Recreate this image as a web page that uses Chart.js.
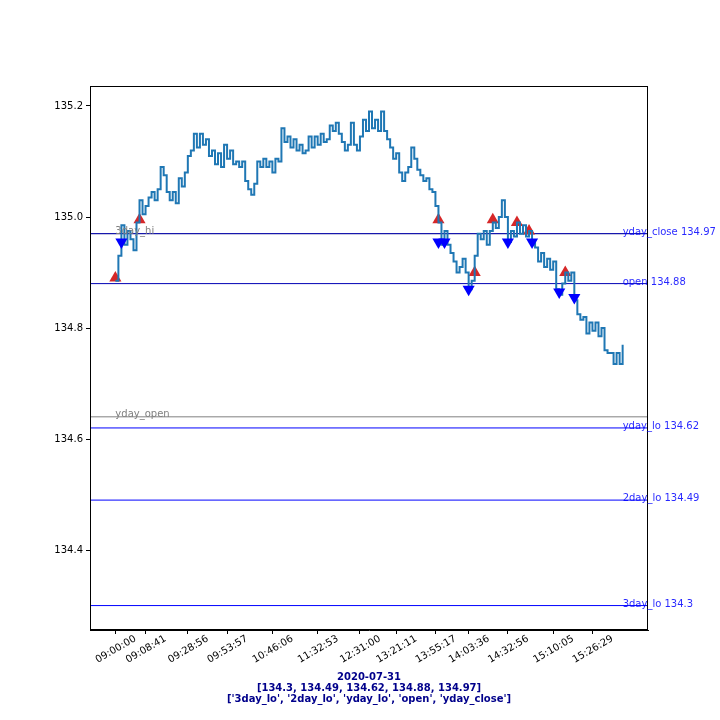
<!DOCTYPE html>
<html><head><meta charset="utf-8">
<script src="https://cdn.jsdelivr.net/npm/chart.js@4"></script>
<style>html,body{margin:0;padding:0;background:#fff}</style>
</head><body>
<canvas id="c" width="720" height="720"></canvas>
<script>
// price series (one value per sample)
const prices = [
134.885,134.93,134.985,134.95,134.975,134.96,134.94,134.99,135.03,135.005,
135.02,135.035,135.045,135.03,135.05,135.09,135.075,135.045,135.03,135.045,
135.025,135.07,135.055,135.08,135.11,135.12,135.15,135.125,135.15,135.13,
135.14,135.11,135.12,135.095,135.115,135.09,135.13,135.105,135.12,135.095,
135.1,135.09,135.1,135.065,135.05,135.04,135.06,135.1,135.09,135.105,
135.09,135.1,135.08,135.105,135.1,135.16,135.135,135.145,135.125,135.14,
135.12,135.13,135.115,135.12,135.145,135.125,135.145,135.13,135.15,135.135,
135.14,135.165,135.155,135.17,135.15,135.135,135.12,135.13,135.17,135.13,
135.12,135.145,135.175,135.155,135.19,135.16,135.175,135.155,135.19,135.155,
135.14,135.125,135.105,135.115,135.08,135.065,135.08,135.09,135.125,135.105,
135.085,135.075,135.065,135.07,135.05,135.045,135.02,134.99,134.95,134.975,
134.95,134.935,134.92,134.9,134.91,134.925,134.9,134.87,134.885,134.93,
134.97,134.96,134.975,134.95,134.975,134.99,134.98,135.0,135.03,135.0,
134.955,134.975,134.965,134.99,134.97,134.985,134.965,134.975,134.955,134.945,
134.92,134.935,134.91,134.925,134.905,134.92,134.87,134.86,134.88,134.9,
134.885,134.9,134.85,134.825,134.815,134.82,134.79,134.81,134.795,134.81,
134.785,134.8,134.76,134.755,134.755,134.735,134.755,134.735,134.77
];
const tickIdx = [0,10,24,37,52,67,81,93,106,117,130,145,158];
const tickLabels = ['09:00:00','09:08:41','09:28:56','09:53:57','10:46:06','11:32:53','12:31:00','13:21:11','13:55:17','14:03:36','14:32:56','15:10:05','15:26:29'];
const yTicks = [134.4,134.6,134.8,135.0,135.2];
const upIdx = [0,8,107,119,125,133,137,149];
const upVals = [134.89,134.995,134.995,134.9,134.995,134.99,134.975,134.9];
const downIdx = [2,107,109,117,130,138,147,152];
const downVals = [134.955,134.955,134.955,134.87,134.955,134.955,134.865,134.855];
const levelNames = ['3day_lo','2day_lo','yday_lo','open','yday_close'];
const levelValues = [134.3,134.49,134.62,134.88,134.97];
const refNames = ['3day_hi','yday_open'];
const refValues = [134.97,134.64];
const dateText = '2020-07-31';

const X_MIN = -8.4, X_MAX = 176.4;
const hline = v => [{x:X_MIN,y:v},{x:X_MAX,y:v}];
const datasets = [];
refValues.forEach(v => datasets.push({data:hline(v),borderColor:'#808080',borderWidth:1,pointRadius:0,order:10}));
levelValues.forEach(v => datasets.push({data:hline(v),borderColor:(v>134.8?'#0000b4':'#0000ff'),borderWidth:1,pointRadius:0,order:9}));
datasets.push({data:upIdx.map((x,i)=>({x,y:upVals[i]})),showLine:false,pointStyle:'triangle',pointRadius:7,
  pointBackgroundColor:'#d62728',pointBorderColor:'#d62728',pointBorderWidth:0,order:5});
datasets.push({data:prices.map((y,x)=>({x,y})),borderColor:'#1f77b4',borderWidth:2,pointRadius:0,stepped:true,order:3});
datasets.push({data:downIdx.map((x,i)=>({x,y:downVals[i]})),showLine:false,pointStyle:'triangle',pointRotation:180,pointRadius:7,
  pointBackgroundColor:'#0000ff',pointBorderColor:'#0000ff',pointBorderWidth:0,order:1});

const decor = {
  id:'decor',
  afterDatasetsDraw(chart){
    const {ctx, chartArea:a, scales:{x,y}} = chart;
    ctx.save();
    ctx.strokeStyle='#000'; ctx.lineWidth=1;
    ctx.strokeRect(a.left+0.5,a.top+0.5,a.right-a.left-1,a.bottom-a.top-1);
    ctx.font='10px "DejaVu Sans"';
    ctx.textBaseline='alphabetic'; ctx.textAlign='left';
    ctx.fillStyle='rgba(0,0,255,0.85)';
    const xr = x.getPixelForValue(prices.length-1);
    levelNames.forEach((n,i)=>ctx.fillText(n+' '+levelValues[i], xr, y.getPixelForValue(levelValues[i])+1));
    ctx.fillStyle='#808080';
    const xl = x.getPixelForValue(0);
    refNames.forEach((n,i)=>ctx.fillText(n, xl, y.getPixelForValue(refValues[i])+0));
    ctx.fillStyle='#00008b';
    ctx.font='bold 10px "DejaVu Sans"';
    ctx.textAlign='center'; ctx.textBaseline='middle';
    const cx=(a.left+a.right)/2;
    const lines=[dateText,'['+levelValues.join(', ')+']','['+levelNames.map(n=>"'"+n+"'").join(', ')+']'];
    lines.forEach((t,i)=>ctx.fillText(t,cx,677+i*11));
    ctx.restore();
  }
};

new Chart(document.getElementById('c'),{
  type:'line',
  data:{datasets},
  options:{
    responsive:false, animation:false, devicePixelRatio:1,
    layout:{padding:{top:86,right:72,left:0,bottom:0}},
    plugins:{legend:{display:false},tooltip:{enabled:false}},
    scales:{
      x:{type:'linear',min:X_MIN,max:X_MAX,
        afterBuildTicks:s=>{s.ticks=tickIdx.map(v=>({value:v}));},
        afterFit:s=>{s.height=90;},
        grid:{drawOnChartArea:false,drawTicks:true,tickLength:4,color:'#000'},
        border:{display:true,color:'#000'},
        ticks:{autoSkip:false,minRotation:30,maxRotation:30,padding:-1,labelOffset:20,color:'#000',
          font:{family:'DejaVu Sans',size:10},
          callback:(v,i)=>tickLabels[i]}},
      y:{min:134.256,max:135.236,
        afterBuildTicks:s=>{s.ticks=yTicks.map(v=>({value:v}));},
        afterFit:s=>{s.width=90;},
        grid:{drawOnChartArea:false,drawTicks:true,tickLength:4,color:'#000'},
        border:{display:true,color:'#000'},
        ticks:{padding:3,color:'#000',font:{family:'DejaVu Sans',size:10},
          callback:v=>v.toFixed(1)}}
    }
  },
  plugins:[decor]
});
</script>
</body></html>
